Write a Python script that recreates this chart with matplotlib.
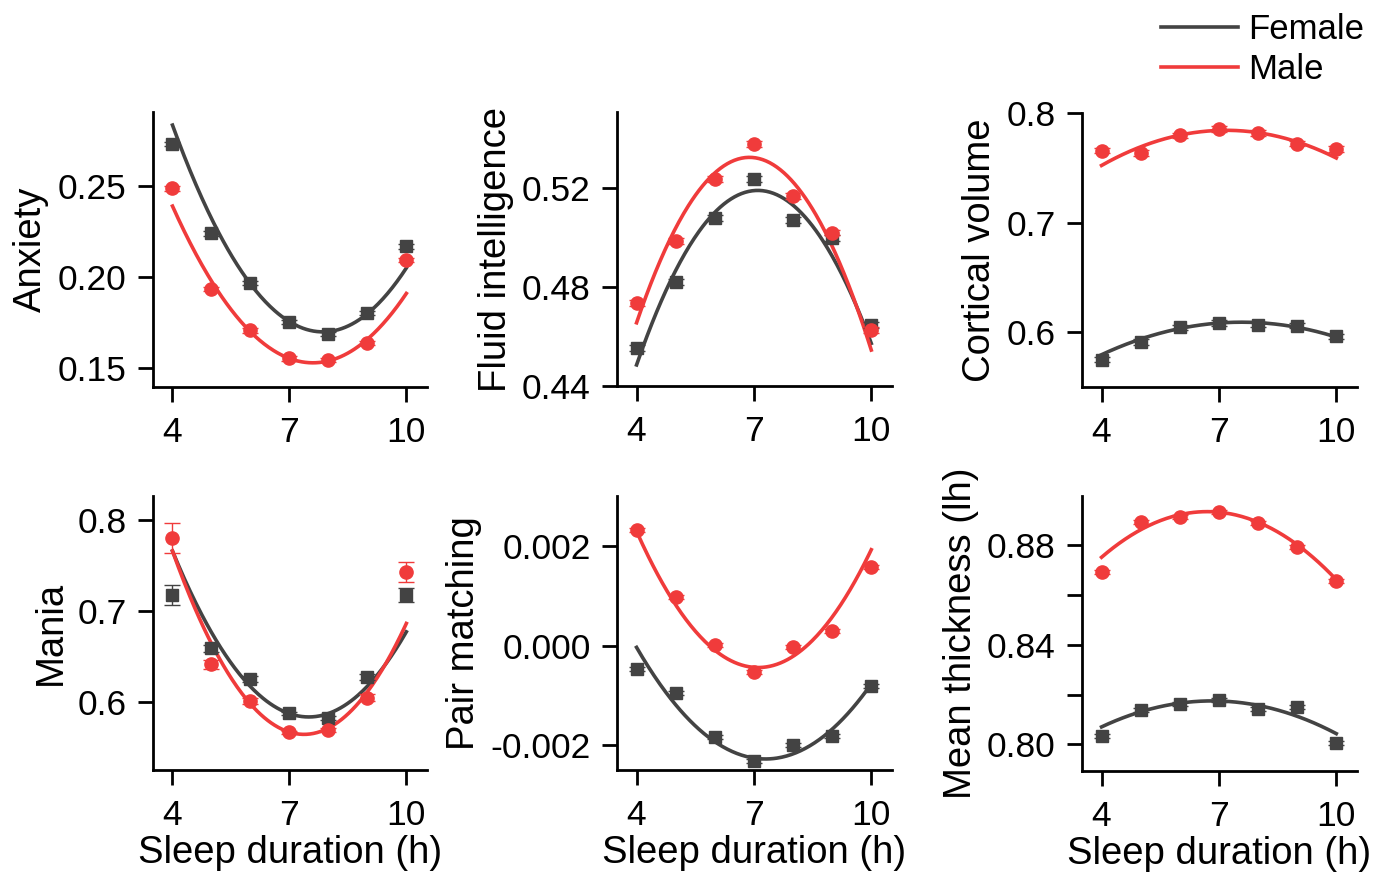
import numpy as np
import matplotlib
matplotlib.use("Agg")
import matplotlib.pyplot as plt
from matplotlib.ticker import FixedLocator, FixedFormatter

plt.rcParams['font.family'] = ['Liberation Sans', 'DejaVu Sans']

# ---------------- data ----------------
sleep_hours = [4, 5, 6, 7, 8, 9, 10]
fit_x = [4, 7, 10]

anxiety_female = [0.273, 0.224, 0.1967, 0.1753, 0.1688, 0.1802, 0.2168]
anxiety_male = [0.2487, 0.1936, 0.1707, 0.1553, 0.1544, 0.1637, 0.2095]
anxiety_female_err = [0.0012] * 7
anxiety_male_err = [0.0012] * 7
anxiety_fit_female = [0.2835, 0.1755, 0.205]
anxiety_fit_male = [0.239, 0.1553, 0.191]

fluid_female = [0.4552, 0.482, 0.5077, 0.5235, 0.507, 0.4996, 0.4646]
fluid_male = [0.4735, 0.4986, 0.5235, 0.5376, 0.5167, 0.5019, 0.4625]
fluid_female_err = [0.0012] * 7
fluid_male_err = [0.0012] * 7
fluid_fit_female = [0.4485, 0.5188, 0.4572]
fluid_fit_male = [0.4655, 0.5321, 0.4545]

cortical_female = [0.5747, 0.5909, 0.6042, 0.6082, 0.6067, 0.6058, 0.596]
cortical_male = [0.7656, 0.7635, 0.7796, 0.7854, 0.7817, 0.772, 0.7671]
cortical_female_err = [0.0025] * 7
cortical_male_err = [0.0025] * 7
cortical_fit_female = [0.5793, 0.6082, 0.5954]
cortical_fit_male = [0.7521, 0.7841, 0.7589]

mania_female = [0.7172, 0.6586, 0.6249, 0.5873, 0.5825, 0.6274, 0.7172]
mania_male = [0.7798, 0.641, 0.6011, 0.5664, 0.5689, 0.6044, 0.7428]
mania_female_err = [0.0115, 0.004, 0.003, 0.002, 0.002, 0.003, 0.008]
mania_male_err = [0.0165, 0.005, 0.003, 0.002, 0.002, 0.004, 0.011]
mania_fit_female = [0.7655, 0.587, 0.6768]
mania_fit_male = [0.7655, 0.5667, 0.686]

pair_female = [-0.000469, -0.000959, -0.00183, -0.002326, -0.002, -0.00181, -0.000818]
pair_male = [0.00232, 0.000985, 0.00002, -0.000523, -0.00002, 0.0003, 0.00158]
pair_female_err = [0.00004] * 7
pair_male_err = [0.00004] * 7
pair_fit_female = [-0.000034, -0.00226, -0.00077]
pair_fit_male = [0.0023, -0.000436, 0.00193]

thick_female = [0.8032, 0.8137, 0.8161, 0.8177, 0.8141, 0.8148, 0.8007]
thick_male = [0.869, 0.8894, 0.8911, 0.8931, 0.8887, 0.8793, 0.8656]
thick_female_err = [0.0008] * 7
thick_male_err = [0.0008] * 7
thick_fit_female = [0.807, 0.8174, 0.8043]
thick_fit_male = [0.8751, 0.8932, 0.8661]

panels = [
    dict(label="Anxiety", f=anxiety_female, m=anxiety_male, fe=anxiety_female_err, me=anxiety_male_err,
         ff=anxiety_fit_female, fm=anxiety_fit_male, ylim=(0.1396, 0.2907),
         yticks=[0.15, 0.20, 0.25], ylabels=["0.15", "0.20", "0.25"],
         box=(153, 427, 112, 387)),
    dict(label="Fluid intelligence", f=fluid_female, m=fluid_male, fe=fluid_female_err, me=fluid_male_err,
         ff=fluid_fit_female, fm=fluid_fit_male, ylim=(0.44, 0.5505),
         yticks=[0.44, 0.48, 0.52], ylabels=["0.44", "0.48", "0.52"],
         box=(617, 892, 112, 386)),
    dict(label="Cortical volume", f=cortical_female, m=cortical_male, fe=cortical_female_err, me=cortical_male_err,
         ff=cortical_fit_female, fm=cortical_fit_male, ylim=(0.5498, 0.8),
         yticks=[0.6, 0.7, 0.8], ylabels=["0.6", "0.7", "0.8"],
         box=(1082, 1357, 113, 387)),
    dict(label="Mania", f=mania_female, m=mania_male, fe=mania_female_err, me=mania_male_err,
         ff=mania_fit_female, fm=mania_fit_male, ylim=(0.5251, 0.8259),
         yticks=[0.6, 0.7, 0.8], ylabels=["0.6", "0.7", "0.8"],
         box=(153, 427, 496, 770)),
    dict(label="Pair matching", f=pair_female, m=pair_male, fe=pair_female_err, me=pair_male_err,
         ff=pair_fit_female, fm=pair_fit_male, ylim=(-0.0025, 0.00301),
         yticks=[-0.002, 0.0, 0.002], ylabels=["-0.002", "0.000", "0.002"],
         box=(617, 892, 496, 770)),
    dict(label="Mean thickness (lh)", f=thick_female, m=thick_male, fe=thick_female_err, me=thick_male_err,
         ff=thick_fit_female, fm=thick_fit_male, ylim=(0.7893, 0.8997),
         yticks=[0.80, 0.82, 0.84, 0.86, 0.88], ylabels=["0.80", "", "0.84", "", "0.88"],
         box=(1082, 1357, 496, 771)),
]

FEMALE_C = "#434343"
MALE_C = "#F03B3B"
W, H = 1389, 874

fig = plt.figure(figsize=(W / 100, H / 100), dpi=100)

xs = np.linspace(4, 10, 200)
for i, p in enumerate(panels):
    l, r, t, b = p["box"]
    ax = fig.add_axes([l / W, 1 - b / H, (r - l) / W, (b - t) / H])
    for vals, err, fitv, col, mk, ms in [
        (p["f"], p["fe"], p["ff"], FEMALE_C, "s", 9),
        (p["m"], p["me"], p["fm"], MALE_C, "o", 9.5),
    ]:
        coef = np.polyfit(fit_x, fitv, 2)
        ax.plot(xs, np.polyval(coef, xs), color=col, lw=2.6, zorder=2)
        ax.errorbar(sleep_hours, vals, yerr=err, fmt=mk, color=col, ms=ms,
                    ecolor=col, elinewidth=1.0, capsize=6, capthick=1.0, zorder=3)
    ax.set_xlim(3.5, 10.53)
    ax.set_ylim(*p["ylim"])
    ax.set_xticks([4, 7, 10])
    ax.set_xticklabels(["4", "7", "10"])
    ax.yaxis.set_major_locator(FixedLocator(p["yticks"]))
    ax.yaxis.set_major_formatter(FixedFormatter(p["ylabels"]))
    for s in ["top", "right"]:
        ax.spines[s].set_visible(False)
    for s in ["left", "bottom"]:
        ax.spines[s].set_linewidth(2.0)
    ax.tick_params(axis="y", length=11, width=2.0, labelsize=25.5, pad=8)
    ax.tick_params(axis="x", length=11, width=2.0, labelsize=25.5, pad=10)
    ax.set_ylabel(p["label"], fontsize=27.5, labelpad=6)
    if i >= 3:
        ax.set_xlabel("Sleep duration (h)", fontsize=27.5, labelpad=2)
    if i == 2:
        hf, = ax.plot([], [], color=FEMALE_C, lw=2.6, label="Female")
        hm, = ax.plot([], [], color=MALE_C, lw=2.6, label="Male")
        fig.legend(handles=[hf, hm], loc="upper right", bbox_to_anchor=(1371 / W, 1 - 6 / H),
                   frameon=False, fontsize=25, handlelength=2.2, handletextpad=0.3,
                   labelspacing=0.2, borderaxespad=0, borderpad=0.2)

fig.savefig("out.png", dpi=100)
